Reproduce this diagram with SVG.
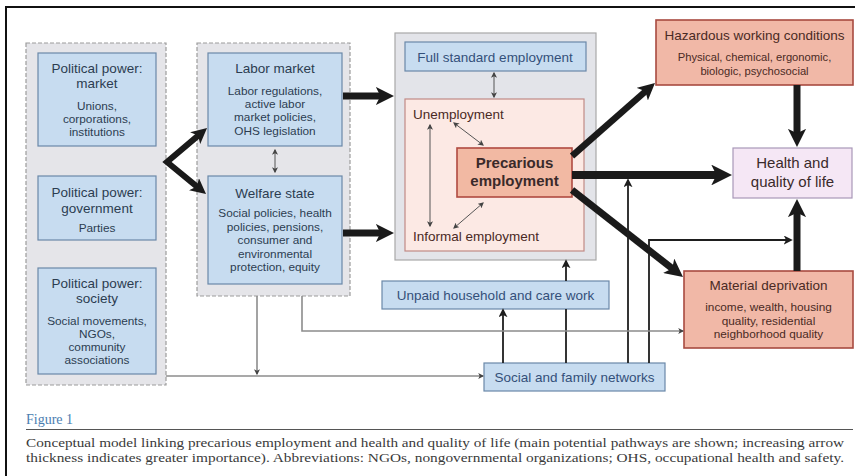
<svg xmlns="http://www.w3.org/2000/svg" width="855" height="476" viewBox="0 0 855 476">
<style>
.col{fill:#e5e5e9;stroke:#9c9c9c;stroke-width:1.2;stroke-dasharray:4 2}
.col3{fill:#e3e4e9;stroke:#a8a8a8;stroke-width:1.2}
.blue{fill:#c7dcf0;stroke:#6a88a8;stroke-width:1.2}
.pinkin{fill:#fce9e4;stroke:#c08a86;stroke-width:1.2}
.prec{fill:#f2b9a3;stroke:#b04a40;stroke-width:1.6}
.red{fill:#f1b8a7;stroke:#a84a40;stroke-width:1.6}
.health{fill:#f5e7f5;stroke:#a898b8;stroke-width:1.2}
text{font-family:"Liberation Sans",Arial,sans-serif;text-anchor:middle}
.t{font-size:13.5px;fill:#2c3c50}
.s{font-size:11.8px;fill:#2c3c50}
.tb{font-size:13.5px;fill:#34507a}
.tr{font-size:13.5px;fill:#4a2a24}
.sr{font-size:11.8px;fill:#4a2a24}
.big{font-size:15px;fill:#3a2a2a}
.thick{fill:none;stroke:#1a1a1a;stroke-linecap:butt;stroke-linejoin:miter}
.thin{fill:none;stroke:#1e1e1e;stroke-width:1.8}
.dbl{fill:none;stroke:#555;stroke-width:1}
.gray{fill:none;stroke:#8c8c8c;stroke-width:1.6}
.cap{font-family:"Liberation Serif","Times New Roman",serif;font-size:12.5px;fill:#3a3a3a;text-anchor:start}
</style>
<defs>
<marker id="hk" viewBox="0 0 10 10" refX="4.5" refY="5" markerWidth="2.6" markerHeight="2.6" markerUnits="strokeWidth" orient="auto-start-reverse">
<path d="M0,0 L10,5 L0,10 L2.5,5 z" fill="#1a1a1a"/>
</marker>
<marker id="ht" viewBox="0 0 10 10" refX="8" refY="5" markerWidth="9" markerHeight="9" markerUnits="userSpaceOnUse" orient="auto-start-reverse">
<path d="M0,0 L10,5 L0,10 L2.5,5 z" fill="#1e1e1e"/>
</marker>
<marker id="hs" viewBox="0 0 10 10" refX="8" refY="5" markerWidth="6" markerHeight="6" markerUnits="userSpaceOnUse" orient="auto-start-reverse">
<path d="M0,0 L10,5 L0,10 L2.5,5 z" fill="#444"/>
</marker>
</defs>
<rect x="0" y="0" width="855" height="476" fill="#ffffff"/>
<path d="M5,7 H855 M6,6 V476" fill="none" stroke="#111" stroke-width="2"/>

<g id="col1"><rect class="col" x="26" y="43" width="140" height="342"/></g>
<g id="col2"><rect class="col" x="197" y="43" width="153" height="253"/></g>
<g id="col3"><rect class="col3" x="395" y="33" width="201" height="227"/></g>

<g id="pp-market">
<rect class="blue" x="38" y="53" width="118" height="93"/>
<text class="t" x="97" y="73">Political power:</text>
<text class="t" x="97" y="88">market</text>
<text class="s" x="97" y="110">Unions,</text>
<text class="s" x="97" y="123">corporations,</text>
<text class="s" x="97" y="136">institutions</text>
</g>
<g id="pp-government">
<rect class="blue" x="38" y="176" width="118" height="64"/>
<text class="t" x="97" y="197">Political power:</text>
<text class="t" x="97" y="213">government</text>
<text class="s" x="97" y="232">Parties</text>
</g>
<g id="pp-society">
<rect class="blue" x="38" y="268" width="118" height="106"/>
<text class="t" x="97" y="288">Political power:</text>
<text class="t" x="97" y="303">society</text>
<text class="s" x="97" y="325">Social movements,</text>
<text class="s" x="97" y="338">NGOs,</text>
<text class="s" x="97" y="351">community</text>
<text class="s" x="97" y="364">associations</text>
</g>
<g id="labor-market">
<rect class="blue" x="208" y="53" width="134" height="93"/>
<text class="t" x="275" y="73">Labor market</text>
<text class="s" x="275" y="95">Labor regulations,</text>
<text class="s" x="275" y="108">active labor</text>
<text class="s" x="275" y="121">market policies,</text>
<text class="s" x="275" y="135">OHS legislation</text>
</g>
<g id="welfare-state">
<rect class="blue" x="208" y="176" width="134" height="108"/>
<text class="t" x="275" y="198">Welfare state</text>
<text class="s" x="275" y="217">Social policies, health</text>
<text class="s" x="275" y="231">policies, pensions,</text>
<text class="s" x="275" y="244">consumer and</text>
<text class="s" x="275" y="258">environmental</text>
<text class="s" x="275" y="271">protection, equity</text>
</g>
<g id="full-standard">
<rect class="blue" x="405" y="42" width="181" height="29"/>
<text class="tb" x="495" y="61.5">Full standard employment</text>
</g>
<g id="precarious-zone">
<rect class="pinkin" x="405" y="99" width="179" height="152"/>
<text class="tr" x="413" y="119" style="text-anchor:start">Unemployment</text>
<text class="tr" x="413" y="241" style="text-anchor:start">Informal employment</text>
</g>
<g id="precarious">
<rect class="prec" x="457" y="148" width="115" height="49"/>
<text class="big" x="514.5" y="168" font-weight="bold">Precarious</text>
<text class="big" x="514.5" y="186" font-weight="bold">employment</text>
</g>
<g id="hazardous">
<rect class="red" x="656" y="20" width="197" height="65"/>
<text class="tr" x="754.5" y="40">Hazardous working conditions</text>
<text class="sr" x="754.5" y="61" style="font-size:11.2px">Physical, chemical, ergonomic,</text>
<text class="sr" x="754.5" y="74.5" style="font-size:11.2px">biologic, psychosocial</text>
</g>
<g id="health">
<rect class="health" x="733" y="148" width="119" height="50"/>
<text class="big" x="792.5" y="168">Health and</text>
<text class="big" x="792.5" y="187">quality of life</text>
</g>
<g id="material">
<rect class="red" x="684" y="271" width="169" height="77"/>
<text class="tr" x="768.5" y="290">Material deprivation</text>
<text class="sr" x="768.5" y="311">income, wealth, housing</text>
<text class="sr" x="768.5" y="324.5">quality, residential</text>
<text class="sr" x="768.5" y="338">neighborhood quality</text>
</g>
<g id="unpaid">
<rect class="blue" x="382" y="281" width="227" height="28"/>
<text class="tb" x="495.5" y="299.5">Unpaid household and care work</text>
</g>
<g id="social">
<rect class="blue" x="484" y="363" width="181" height="28"/>
<text class="tb" x="574.5" y="381.5">Social and family networks</text>
</g>

<g id="connectors">
<path class="thick" stroke-width="6" d="M200.5,133.6 L167,162 L199.4,188.6" marker-start="url(#hk)" marker-end="url(#hk)"/>
<path class="thick" stroke-width="7" d="M343,96 H384" marker-end="url(#hk)"/>
<path class="thick" stroke-width="7" d="M343,233 H384" marker-end="url(#hk)"/>
<path class="thick" stroke-width="6.5" d="M572,156 L648,89.1" marker-end="url(#hk)"/>
<path class="thick" stroke-width="8" d="M572,175 H720.6" marker-end="url(#hk)"/>
<path class="thick" stroke-width="7" d="M572,190 L675.1,270.8" marker-end="url(#hk)"/>
<path class="thick" stroke-width="7" d="M797,85 V137" marker-end="url(#hk)"/>
<path class="thick" stroke-width="7" d="M797,271 V209" marker-end="url(#hk)"/>
<path class="dbl" d="M275,150 V172" marker-start="url(#hs)" marker-end="url(#hs)"/>
<path class="dbl" d="M494,73 V97" marker-start="url(#hs)" marker-end="url(#hs)"/>
<path class="dbl" d="M430,125 V226" marker-start="url(#hs)" marker-end="url(#hs)"/>
<path class="dbl" d="M454,123 L483,145" marker-start="url(#hs)" marker-end="url(#hs)"/>
<path class="dbl" d="M483,203 L454,228" marker-start="url(#hs)" marker-end="url(#hs)"/>
<path class="thin" d="M628,363 V180" marker-end="url(#ht)"/>
<path class="thin" d="M649,363 V240 H791" marker-end="url(#ht)"/>
<path class="thin" d="M503,363 V310" marker-end="url(#ht)"/>
<path class="thin" d="M566,363 V309"/>
<path class="thin" d="M566,281 V261" marker-end="url(#ht)"/>
<path class="gray" d="M166,376 H483" marker-end="url(#hs)"/>
<path class="gray" d="M257,296 V374" marker-end="url(#hs)"/>
<path class="gray" d="M302,296 V331 H683" marker-end="url(#hs)"/>
</g>

<text x="26" y="424" style="font-family:'Liberation Serif','Times New Roman',serif;font-size:14px;fill:#4a7db0;text-anchor:start">Figure 1</text>
<path d="M26,429.5 H853" stroke="#555" stroke-width="1"/>
<text class="cap" x="26" y="447" textLength="818" lengthAdjust="spacingAndGlyphs">Conceptual model linking precarious employment and health and quality of life (main potential pathways are shown; increasing arrow</text>
<text class="cap" x="26" y="462" textLength="818" lengthAdjust="spacingAndGlyphs">thickness indicates greater importance). Abbreviations: NGOs, nongovernmental organizations; OHS, occupational health and safety.</text>
</svg>
